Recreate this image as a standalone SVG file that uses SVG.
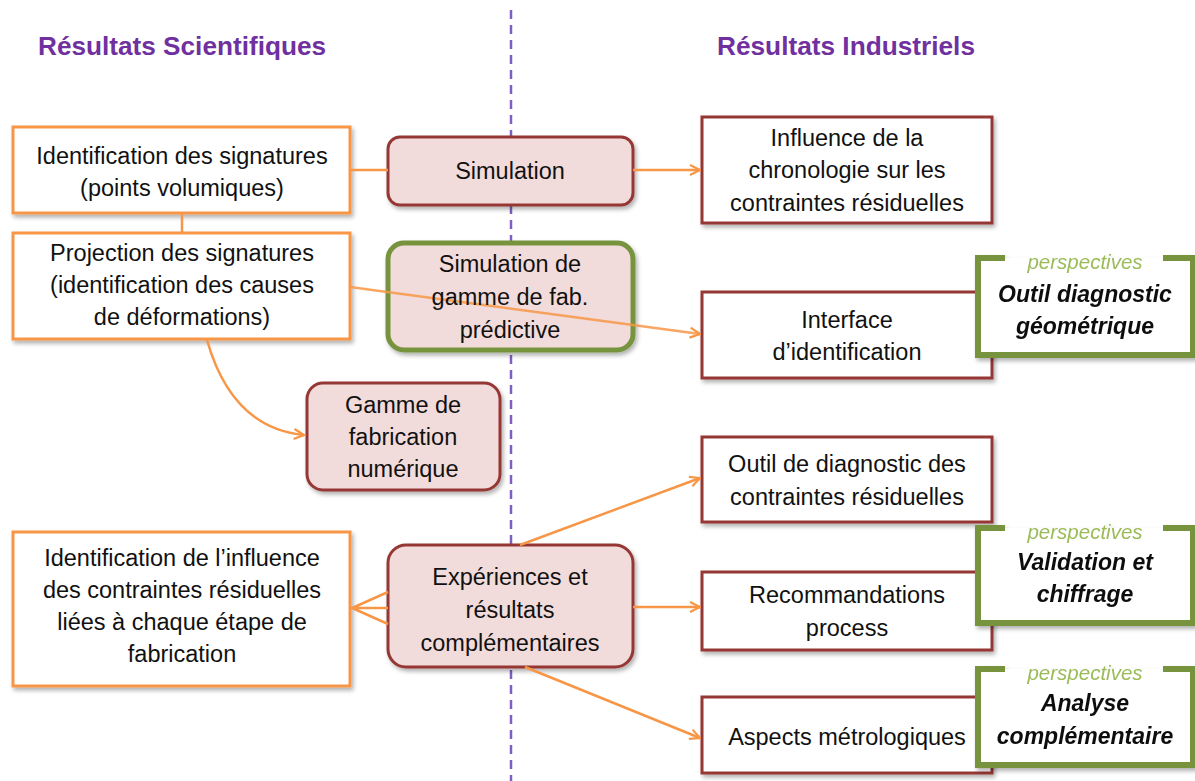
<svg xmlns="http://www.w3.org/2000/svg" width="1195" height="781" viewBox="0 0 1195 781">
<style>
.t{font-family:"Liberation Sans",Arial,sans-serif;font-size:23.5px;fill:#111;text-anchor:middle}
.h{font-family:"Liberation Sans",Arial,sans-serif;font-size:25px;font-weight:bold;fill:#7030A0}
.sci{fill:#fff;stroke:#F79646;stroke-width:3}
.ind{fill:#fff;stroke:#953735;stroke-width:3}
.pk{fill:#F2DCDB;stroke:#953735;stroke-width:3}
.gr{fill:#F2DCDB;stroke:#77933C;stroke-width:5}
.pw{fill:#fff}
.pb{fill:none;stroke:#77933C;stroke-width:6}
.pt{font-family:"Liberation Sans",Arial,sans-serif;font-size:20.5px;font-style:italic;fill:#9BBB59;text-anchor:middle}
.pm{font-family:"Liberation Sans",Arial,sans-serif;font-size:23px;font-style:italic;font-weight:bold;fill:#111;text-anchor:middle}
.c{fill:none;stroke:#F79646;stroke-width:2.5}
</style>
<defs>
<filter id="sh" x="-10%" y="-10%" width="120%" height="130%">
<feDropShadow dx="2" dy="3" stdDeviation="2" flood-color="#000" flood-opacity="0.3"/>
</filter>
<marker id="ar" viewBox="0 0 12 12" refX="11" refY="6" markerWidth="12" markerHeight="12" markerUnits="userSpaceOnUse" orient="auto">
<path d="M1,1 L11,6 L1,11" fill="none" stroke="#F79646" stroke-width="2.2"/>
</marker>
</defs>
<rect width="1195" height="781" fill="#fff"/>
<text class="h" x="38" y="55" textLength="288" lengthAdjust="spacingAndGlyphs">Résultats Scientifiques</text>
<text class="h" x="717" y="55" textLength="258" lengthAdjust="spacingAndGlyphs">Résultats Industriels</text>
<line x1="511" y1="10" x2="511" y2="781" stroke="#7F5FBF" stroke-width="2.5" stroke-dasharray="9,6"/>

<g id="n-ident-sig" filter="url(#sh)"><rect class="sci" x="13" y="127" width="337" height="86"/></g>
<g id="n-proj-sig" filter="url(#sh)"><rect class="sci" x="13" y="233" width="337" height="106"/></g>
<g id="n-ident-infl" filter="url(#sh)"><rect class="sci" x="13" y="532" width="337" height="154"/></g>
<g id="n-simulation" filter="url(#sh)"><rect class="pk" x="388" y="137" width="245" height="68" rx="12"/></g>
<g id="n-sim-gamme" filter="url(#sh)"><rect class="gr" x="388" y="243" width="245" height="107" rx="16"/></g>
<g id="n-gamme-num" filter="url(#sh)"><rect class="pk" x="307" y="383" width="193" height="107" rx="16"/></g>
<g id="n-experiences" filter="url(#sh)"><rect class="pk" x="388" y="545" width="245" height="122" rx="18"/></g>
<g id="n-influence" filter="url(#sh)"><rect class="ind" x="702" y="117" width="290" height="106"/></g>
<g id="n-interface" filter="url(#sh)"><rect class="ind" x="702" y="292" width="290" height="86"/></g>
<g id="n-outil" filter="url(#sh)"><rect class="ind" x="702" y="437" width="290" height="85"/></g>
<g id="n-recomm" filter="url(#sh)"><rect class="ind" x="702" y="572" width="290" height="78"/></g>
<g id="n-aspects" filter="url(#sh)"><rect class="ind" x="702" y="697" width="290" height="76"/></g>

<g id="connectors">
<line class="c" x1="182" y1="213" x2="182" y2="233"/>
<line class="c" x1="350" y1="170" x2="388" y2="170"/>
<line class="c" x1="633" y1="170" x2="700" y2="170" marker-end="url(#ar)"/>
<line class="c" x1="350" y1="287" x2="700" y2="334" marker-end="url(#ar)" stroke-opacity="0.85"/>
<path class="c" d="M207,340 Q232,428 304,435" marker-end="url(#ar)"/>
<line class="c" x1="520" y1="545" x2="700" y2="478" marker-end="url(#ar)"/>
<line class="c" x1="633" y1="607" x2="700" y2="607" marker-end="url(#ar)"/>
<line class="c" x1="525" y1="667" x2="700" y2="738" marker-end="url(#ar)"/>
<path class="c" d="M388,592 L352,608 L388,624 M388,608 L352,608"/>
</g>

<g id="labels">
<text class="t" x="182" y="164">Identification des signatures</text>
<text class="t" x="182" y="196">(points volumiques)</text>
<text class="t" x="182" y="261">Projection des signatures</text>
<text class="t" x="182" y="293">(identification des causes</text>
<text class="t" x="182" y="325">de déformations)</text>
<text class="t" x="182" y="566">Identification de l’influence</text>
<text class="t" x="182" y="598">des contraintes résiduelles</text>
<text class="t" x="182" y="630">liées à chaque étape de</text>
<text class="t" x="182" y="662">fabrication</text>
<text class="t" x="510" y="179">Simulation</text>
<text class="t" x="510" y="272">Simulation de</text>
<text class="t" x="510" y="305">gamme de fab.</text>
<text class="t" x="510" y="338">prédictive</text>
<text class="t" x="403" y="413">Gamme de</text>
<text class="t" x="403" y="445">fabrication</text>
<text class="t" x="403" y="477">numérique</text>
<text class="t" x="510" y="585">Expériences et</text>
<text class="t" x="510" y="618">résultats</text>
<text class="t" x="510" y="651">complémentaires</text>
<text class="t" x="847" y="146">Influence de la</text>
<text class="t" x="847" y="178">chronologie sur les</text>
<text class="t" x="847" y="211">contraintes résiduelles</text>
<text class="t" x="847" y="328">Interface</text>
<text class="t" x="847" y="360">d’identification</text>
<text class="t" x="847" y="472">Outil de diagnostic des</text>
<text class="t" x="847" y="505">contraintes résiduelles</text>
<text class="t" x="847" y="603">Recommandations</text>
<text class="t" x="847" y="636">process</text>
<text class="t" x="847" y="745">Aspects métrologiques</text>
</g>

<g id="n-persp-1" filter="url(#sh)">
<rect class="pw" x="978" y="258" width="215" height="97"/>
<path class="pb" d="M1005,258 L978,258 L978,355 L1193,355 L1193,258 L1163,258"/>
<text class="pt" x="1085" y="269">perspectives</text>
<text class="pm" x="1085" y="302">Outil diagnostic</text>
<text class="pm" x="1085" y="334">géométrique</text>
</g>
<g id="n-persp-2" filter="url(#sh)">
<rect class="pw" x="978" y="528" width="215" height="95"/>
<path class="pb" d="M1005,528 L978,528 L978,623 L1193,623 L1193,528 L1163,528"/>
<text class="pt" x="1085" y="539">perspectives</text>
<text class="pm" x="1085" y="570">Validation et</text>
<text class="pm" x="1085" y="602">chiffrage</text>
</g>
<g id="n-persp-3" filter="url(#sh)">
<rect class="pw" x="978" y="669" width="215" height="96"/>
<path class="pb" d="M1005,669 L978,669 L978,765 L1193,765 L1193,669 L1163,669"/>
<text class="pt" x="1085" y="680">perspectives</text>
<text class="pm" x="1085" y="711">Analyse</text>
<text class="pm" x="1085" y="744">complémentaire</text>
</g>
</svg>
